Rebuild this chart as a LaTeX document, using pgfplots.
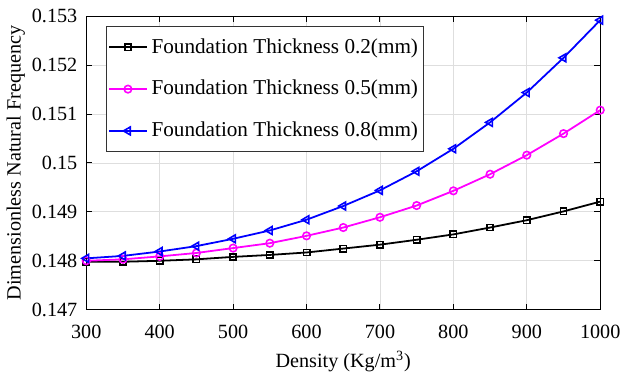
\documentclass[border=0pt]{standalone}
\usepackage{fontspec}
\setmainfont{Liberation Serif}
\usepackage{pgfplots}
\pgfplotsset{compat=1.18}
\definecolor{mblue}{RGB}{0,0,255}
\definecolor{mmag}{RGB}{255,0,255}
\begin{document}
\begin{tikzpicture}
\begin{axis}[
  scale only axis,
  width=259.7pt, height=148.3pt,
  xmin=300, xmax=1000, ymin=0.147, ymax=0.153,
  xtick={300,400,...,1000},
  xticklabels={300,400,500,600,700,800,900,1000},
  ytick={0.147,0.148,0.149,0.150,0.151,0.152,0.153},
  yticklabels={0.147,0.148,0.149,0.15,0.151,0.152,0.153},
  scaled y ticks=false,
  /pgf/number format/assume math mode=true,
  /pgf/number format/1000 sep={},
  tick align=inside,
  tick pos=both,
  major tick length=3pt,
  grid=major,
  grid style={color=black!13, line width=0.4pt},
  axis line style={line width=0.5pt},
  tick style={black, line width=0.5pt},
  ticklabel style={font=\fontsize{10.2}{12}\selectfont},
  xticklabel style={yshift=-4pt},
  yticklabel style={xshift=-1pt},
  xlabel={Density (Kg/m\textsuperscript{3})},
  ylabel={Dimensionless Natural Frequency},
  label style={font=\fontsize{10.2}{12}\selectfont},
  xlabel style={at={(axis description cs:0.5,-0.1753)}, anchor=center},
  ylabel style={at={(axis description cs:-0.1371,0.5)}, anchor=center, rotate=0},
  legend style={at={(rel axis cs:0,1)}, anchor=north west, xshift=9.85pt, yshift=-5pt,
    font=\fontsize{10.7}{12}\selectfont, draw=black!80, line width=0.5pt,
    row sep=8.2pt, inner xsep=1pt, inner ysep=4pt},
  legend cell align=left,
  legend image code/.code={
    \draw[#1] (0cm,0cm) -- (19pt,0cm);
    \draw[#1, mark repeat=2, mark phase=2] plot coordinates {(0pt,0cm) (9.5pt,0cm) (19pt,0cm)};
  },
]
\addplot[black, line width=0.9pt, mark=square, mark size=1.6pt, mark options={line width=0.8pt}] coordinates {
(300,0.14798) (350,0.14798) (400,0.14800) (450,0.14803) (500,0.14808) (550,0.14812)
(600,0.14817) (650,0.14825) (700,0.14833) (750,0.14843) (800,0.14854) (850,0.14868)
(900,0.14883) (950,0.14901) (1000,0.14921)};
\addlegendentry{Foundation Thickness 0.2(mm)}
\addplot[mmag, line width=0.9pt, mark=o, mark size=1.9pt, mark options={line width=0.8pt}] coordinates {
(300,0.14800) (350,0.14803) (400,0.14809) (450,0.14816) (500,0.14826) (550,0.14836)
(600,0.14851) (650,0.14868) (700,0.14889) (750,0.14913) (800,0.14943) (850,0.14977)
(900,0.15016) (950,0.15060) (1000,0.15108)};
\addlegendentry{Foundation Thickness 0.5(mm)}
\addplot[mblue, line width=0.9pt, mark=triangle, mark size=2.3pt, mark options={rotate=90, line width=0.8pt}] coordinates {
(300,0.14805) (350,0.14810) (400,0.14819) (450,0.14830) (500,0.14845) (550,0.14862)
(600,0.14884) (650,0.14912) (700,0.14944) (750,0.14983) (800,0.15029) (850,0.15083)
(900,0.15144) (950,0.15215) (1000,0.15292)};
\addlegendentry{Foundation Thickness 0.8(mm)}
\end{axis}
\path[use as bounding box] (-43.6pt,-33pt) rectangle (269.9pt,156.5pt);
\end{tikzpicture}
\end{document}
